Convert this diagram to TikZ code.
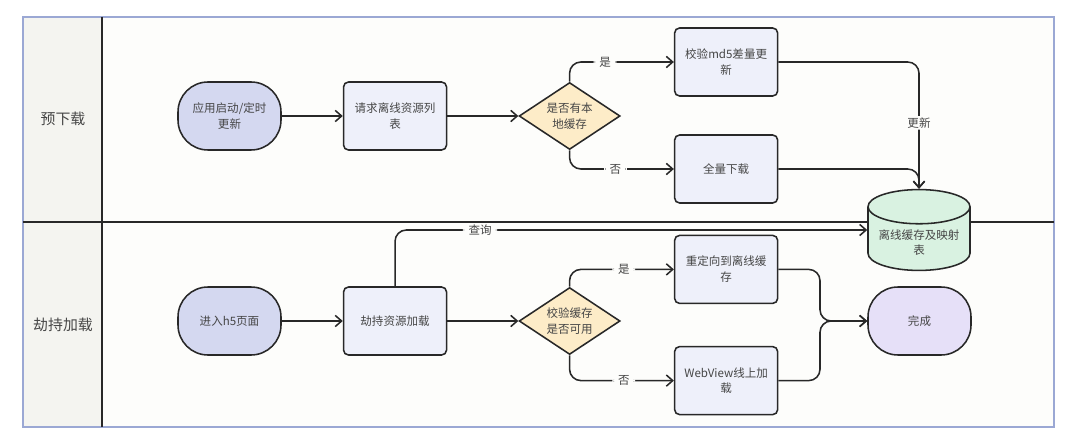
\documentclass[tikz,border=0pt]{standalone}
\usepackage{fontspec}
\setmainfont{Noto Sans CJK SC}
\usepackage{tikz}
\usetikzlibrary{arrows.meta, positioning, shapes.geometric, calc}
\definecolor{ink}{RGB}{40,40,40}
\definecolor{txt}{RGB}{70,70,70}
\definecolor{frameblue}{RGB}{155,168,212}
\definecolor{headgrey}{RGB}{244,244,240}
\definecolor{lanebg}{RGB}{253,253,251}
\definecolor{startblue}{RGB}{212,216,240}
\definecolor{procblue}{RGB}{238,240,250}
\definecolor{decgold}{RGB}{253,236,200}
\definecolor{cachegreen}{RGB}{217,242,225}
\definecolor{donelilac}{RGB}{230,224,248}
\tikzstyle{terminal} = [rectangle, rounded corners=0.75cm, draw=ink, line width=1.1pt, fill=startblue,
                        minimum width=2.575cm, minimum height=1.7cm, align=center, text=txt,
                        font=\fontsize{8.2}{11.3}\selectfont]
\tikzstyle{proc}     = [rectangle, rounded corners=3.5pt, draw=ink, line width=1.1pt, fill=procblue,
                        minimum width=2.575cm, minimum height=1.7cm, align=center, text=txt,
                        font=\fontsize{8.2}{11.3}\selectfont]
\tikzstyle{check}    = [diamond, aspect=1.5, inner sep=0pt, draw=ink, line width=1.1pt, fill=decgold,
                        minimum width=2.525cm, minimum height=1.675cm, align=center, text=txt,
                        font=\fontsize{8.2}{11.3}\selectfont]
\tikzstyle{store}    = [cylinder, shape border rotate=90, aspect=0.38, draw=ink, line width=1.1pt,
                        fill=cachegreen, minimum width=2.55cm, minimum height=1.65cm, align=center,
                        text=txt, font=\fontsize{8.2}{11.3}\selectfont]
\tikzstyle{lane}     = [text=txt, font=\fontsize{10.6}{13}\selectfont]
\tikzstyle{lbl}      = [fill=lanebg, inner xsep=4pt, inner ysep=1pt, text=txt,
                        font=\fontsize{8.2}{11.3}\selectfont]
\tikzstyle{arr}      = [-{Straight Barb[length=1.6mm, width=2.8mm]}, line width=1.1pt, draw=ink,
                        rounded corners=8pt]

\begin{document}
\begin{tikzpicture}
    \useasboundingbox (0,0) rectangle (27,-11.15);
    \fill[white] (0,0) rectangle (27,-11.15);
    \fill[lanebg] (0.575,-0.425) rectangle (26.35,-10.675);
    \fill[headgrey] (0.575,-0.425) rectangle (2.55,-10.675);
    \draw[frameblue, line width=1.3pt] (0.575,-0.425) rectangle (26.35,-10.675);
    \draw[ink, line width=1.1pt] (2.55,-0.425) -- (2.55,-10.675);
    \draw[ink, line width=1.1pt] (0.575,-5.55) -- (26.35,-5.55);

    \node[lane] (pre) at (1.575,-2.975) {预下载};
    \node[lane] (hook) at (1.575,-8.125) {劫持加载};

    \node[terminal] (boot) at (5.7375,-2.9) {应用启动/定时\\更新};
    \node[proc, right=1.525cm of boot] (fetch) {请求离线资源列\\表};
    \node[check, right=1.775cm of fetch] (haslocal) {是否有本\\地缓存};
    \node[proc, right=1.325cm of haslocal, yshift=1.35cm] (md5) {校验md5差量更\\新};
    \node[proc, right=1.325cm of haslocal, yshift=-1.325cm] (full) {全量下载};
    \node[store, anchor=shape center] (cache) at (22.975,-5.75) {离线缓存及映射\\表};

    \node[terminal] (enter) at (5.7375,-8.025) {进入h5页面};
    \node[proc, right=1.525cm of enter] (hijack) {劫持资源加载};
    \node[check, right=1.775cm of hijack] (usable) {校验缓存\\是否可用};
    \node[proc, right=1.325cm of usable, yshift=1.29cm] (redirect) {重定向到离线缓\\存};
    \node[proc, right=1.325cm of usable, yshift=-1.49cm] (online) {WebView线上加\\载};
    \node[terminal, fill=donelilac] (done) at (22.9875,-8.025) {完成};
    \coordinate (join) at (20.5,-8.025);

    \draw[arr] (boot) -- (fetch);
    \draw[arr] (fetch) -- (haslocal);
    \draw[arr] (haslocal.north) |- node[lbl, pos=0.67] {是} (md5.west);
    \draw[arr] (haslocal.south) |- node[lbl, pos=0.72] {否} (full.west);
    \draw[arr] (md5.east) -| node[lbl, pos=0.74] {更新} (cache.north);
    \draw[arr] (full.east) -| (cache.north);

    \draw[arr] (enter) -- (hijack);
    \draw[arr] (hijack) -- (usable);
    \draw[arr] (hijack.north) |- node[lbl, pos=0.59] {查询} (cache.west |- cache.shape center);
    \draw[arr] (usable.north) |- node[lbl, pos=0.76] {是} (redirect.west);
    \draw[arr] (usable.south) |- node[lbl, pos=0.76] {否} (online.west);
    \draw[arr] (redirect.east) -| (join) -- (done.west);
    \draw[arr] (online.east) -| (join) -- (done.west);
\end{tikzpicture}
\end{document}
